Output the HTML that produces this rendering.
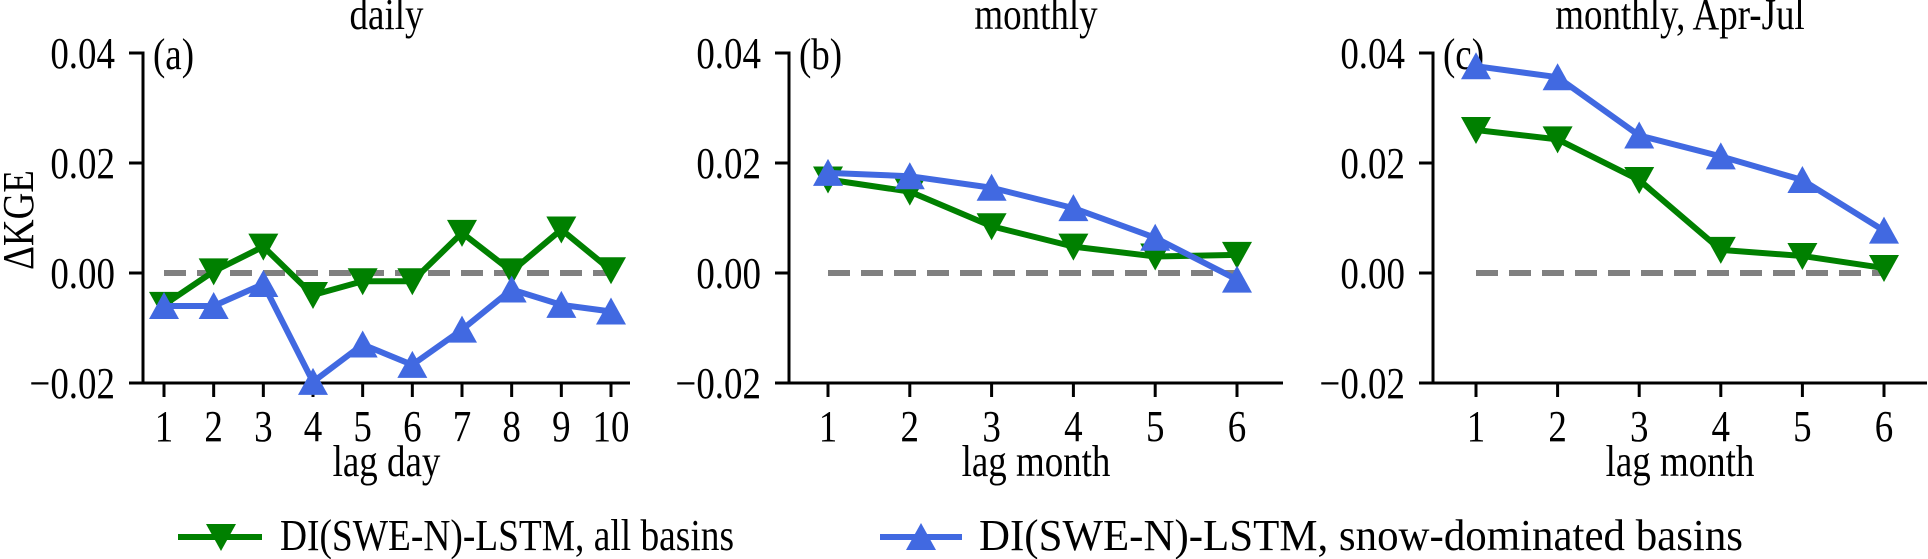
<!DOCTYPE html>
<html><head><meta charset="utf-8"><style>
html,body{margin:0;padding:0;background:#fff;}
svg{display:block;font-family:"Liberation Serif",serif;}
</style></head><body>
<svg id="chart" width="1928" height="559" viewBox="0 0 1928 559" xmlns="http://www.w3.org/2000/svg"></svg>
<script>
const dailyLags = [1,2,3,4,5,6,7,8,9,10];
const dailyAll = [-0.0058,0.0003,0.0048,-0.004,-0.0015,-0.0015,0.0073,0.0003,0.0079,0.0005];
const dailySnow = [-0.006,-0.006,-0.002,-0.0198,-0.013,-0.0167,-0.0103,-0.003,-0.0058,-0.007];
const monthLags = [1,2,3,4,5,6];
const monthlyAll = [0.017,0.0148,0.0085,0.0048,0.003,0.0033];
const monthlySnow = [0.0182,0.0176,0.0155,0.0118,0.0064,-0.0012];
const aprjulAll = [0.026,0.0243,0.0169,0.0042,0.0031,0.0009];
const aprjulSnow = [0.0376,0.0356,0.025,0.0212,0.0169,0.0077];
const yTicks = [0.04,0.02,0.00,-0.02];
const yTickLabels = ["0.04","0.02","0.00","\u22120.02"];
const titles = ["daily","monthly","monthly, Apr-Jul"];
const panelLetters = ["(a)","(b)","(c)"];
const xLabels = ["lag day","lag month","lag month"];

const NS="http://www.w3.org/2000/svg";
const svg=document.getElementById('chart');
function mk(tag,attrs,parent){const e=document.createElementNS(NS,tag);for(const k in attrs)e.setAttribute(k,attrs[k]);(parent||svg).appendChild(e);return e;}
const FS=44, SX=0.84;
function txt(x,y,str,anchor,parent,rot){
 const e=mk('text',{x:0,y:0,'font-size':FS,'text-anchor':anchor||'start',fill:'#000',
   transform:`translate(${x},${y})`+(rot?` rotate(${rot})`:'')+` scale(${SX},1)`},parent);
 e.textContent=str;return e;
}
const GREEN="#008000",BLUE="#4169E1";
const yScale=v=>273-v*5500;
function tri(x,y,dir){return dir==='down'?`M${x-15},${y-13}L${x+15},${y-13}L${x},${y+14}Z`:`M${x-15},${y+13}L${x+15},${y+13}L${x},${y-14}Z`;}
const panels=[
 {spine:143,end:630,x1:164,step:(611-164)/9,lags:dailyLags,a:dailyAll,s:dailySnow},
 {spine:789,end:1283,x1:828,step:(1237-828)/5,lags:monthLags,a:monthlyAll,s:monthlySnow},
 {spine:1433,end:1927,x1:1476,step:81.6,lags:monthLags,a:aprjulAll,s:aprjulSnow}
];
panels.forEach((p,i)=>{
 const g=mk('g',{});
 
 
 const xs=v=>p.x1+(v-p.lags[0])*p.step;
 const t=txt((p.spine+p.end)/2,29,titles[i],'middle',g);
 
 
 const ys=mk('line',{x1:p.spine,y1:51.5,x2:p.spine,y2:384.5,stroke:'#000','stroke-width':3},g);
 
 
 const xa=mk('line',{x1:p.spine-1.5,y1:383,x2:p.end,y2:383,stroke:'#000','stroke-width':3},g);
 
 
 yTicks.forEach((v,k)=>{
  const y=yScale(v);
  const tk=mk('line',{x1:p.spine-14,y1:y,x2:p.spine,y2:y,stroke:'#000','stroke-width':3},g);
  
  
  const tl=txt(p.spine-28,y+15,yTickLabels[k],'end',g);
  
  
 });
 p.lags.forEach(v=>{
  const x=xs(v);
  const tk=mk('line',{x1:x,y1:383,x2:x,y2:397,stroke:'#000','stroke-width':3},g);
  
  
  const tl=txt(x,441,String(v),'middle',g);
  
  
 });
 const xl=txt((p.spine+p.end)/2,476,xLabels[i],'middle',g);
 
 
 const pl=txt(p.spine+10,69,panelLetters[i],'start',g);
 
 
 const zl=mk('line',{x1:xs(p.lags[0]),y1:yScale(0),x2:xs(p.lags[p.lags.length-1]),y2:yScale(0),stroke:'#808080','stroke-width':6,'stroke-dasharray':'22 11'},g);
 
 
 [[p.a,GREEN,'down','series-all-basins'],[p.s,BLUE,'up','series-snow-basins']].forEach(([vals,col,dir,nm])=>{
  const pts=vals.map((v,k)=>xs(p.lags[k])+','+yScale(v)).join(' ');
  const ln=mk('polyline',{points:pts,fill:'none',stroke:col,'stroke-width':6,'stroke-linejoin':'round'},g);
  
  
  vals.forEach((v,k)=>{
   const m=mk('path',{d:tri(xs(p.lags[k]),yScale(v),dir),fill:col},g);
   
   
  });
 });
});
const yt=txt(33,220,'\u0394KGE','middle',null,-90);


const lg=mk('g',{});


[[178,262,221,280,454,GREEN,'down','DI(SWE-N)-LSTM, all basins','legend-entry-all-basins'],
 [880,962,921,979,764,BLUE,'up','DI(SWE-N)-LSTM, snow-dominated basins','legend-entry-snow-basins']].forEach(([x1,x2,mx,tx,tl,col,dir,label,nm])=>{
 const e=mk('g',{},lg);
 
 
 const y=537;
 mk('line',{x1:x1,y1:y,x2:x2,y2:y,stroke:col,'stroke-width':6},e);
 mk('path',{d:tri(mx,y,dir),fill:col},e);
 const t=mk('text',{x:tx,y:550,'font-size':FS,fill:'#000',textLength:tl,lengthAdjust:'spacingAndGlyphs'},e);
 t.textContent=label;
});
</script>
</body></html>
